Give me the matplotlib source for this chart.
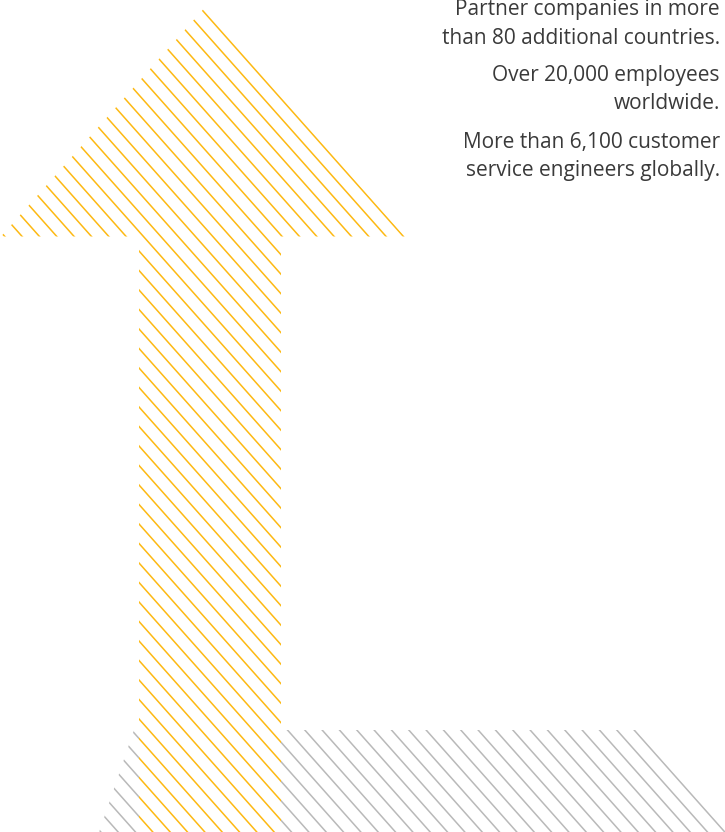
import numpy as np
import matplotlib.pyplot as plt
from matplotlib.patches import Polygon

# text block, top right
text_lines = ["Partner companies in more", "than 80 additional countries.",
              "Over 20,000 employees", "worldwide.",
              "More than 6,100 customer", "service engineers globally."]
text_baselines = [15, 44, 81, 109, 148, 176]

# outline of the yellow arrow (pixel coords, y down)
arrow_x = [203.5, 405, 281, 281, 139, 139, 1]
arrow_y = [9, 236.5, 236.5, 840, 840, 236.5, 236.5]

# outline of the grey band at the bottom
band_x = [134, 636, 740, 94]
band_y = [730, 730, 847, 847]

# hatch lattice: y = slope * x + offset
slope = 1.125
offset0 = -217.4
step = 19.5
n_lines = 52

yellow = "#FDB913"
grey = "#B9B9B9"

fig = plt.figure(figsize=(7.25, 8.32), dpi=100)
ax = fig.add_axes([0, 0, 1, 1])
ax.set_xlim(0, 725)
ax.set_ylim(832, 0)
ax.axis("off")


def hatch(xs, ys, color, z):
    patch = Polygon(np.column_stack([xs, ys]), closed=True,
                    facecolor="none", edgecolor="none")
    ax.add_patch(patch)
    x = np.array([-200, 1000])
    for k in range(n_lines):
        c = offset0 + k * step
        ln, = ax.plot(x, slope * x + c, color=color, lw=1.1, zorder=z,
                      solid_capstyle="butt")
        ln.set_clip_path(patch)


hatch(band_x, band_y, grey, 1)
# white under the arrow hides the grey lines
under = Polygon(np.column_stack([arrow_x, arrow_y]), closed=True,
                facecolor="white", edgecolor="none", zorder=1.5)
ax.add_patch(under)
hatch(arrow_x, arrow_y, yellow, 2)

for txt, yb in zip(text_lines, text_baselines):
    ax.text(720, yb, txt, ha="right", va="baseline", fontsize=15,
            family="Open Sans", color="#3a3a3a")

fig.savefig("out.png", dpi=100)
